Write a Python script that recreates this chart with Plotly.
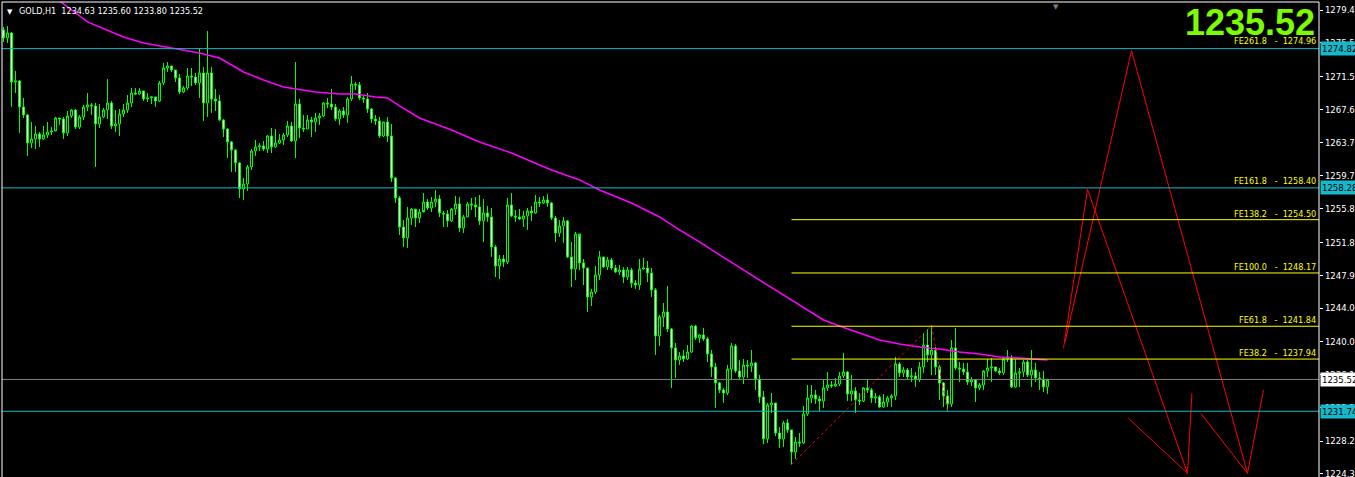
import plotly.graph_objects as go

# GOLD,H1 candles, oldest bar first
opens = [
    1277.04, 1276.09, 1276.68, 1270.86, 1270.98, 1267.89, 1266.94, 1263.61, 1264.09, 1264.68,
    1264.09, 1264.56, 1264.92, 1265.04, 1266.58, 1266.46, 1264.80, 1266.82, 1267.53, 1265.51,
    1266.70, 1267.89, 1268.13, 1268.01, 1265.87, 1266.70, 1267.53, 1268.36, 1265.63, 1265.87,
    1267.06, 1267.53, 1268.36, 1269.55, 1269.43, 1269.79, 1268.84, 1268.96, 1269.08, 1268.60,
    1270.74, 1272.52, 1272.76, 1272.28, 1271.33, 1269.67, 1270.15, 1271.57, 1271.45, 1270.74,
    1271.93, 1268.36, 1271.93, 1268.84, 1268.60, 1266.34, 1265.27, 1263.73, 1262.78, 1261.24,
    1258.15, 1258.74, 1260.76, 1262.66, 1263.14, 1263.26, 1262.90, 1264.44, 1263.14, 1263.61,
    1263.97, 1264.56, 1265.63, 1263.85, 1268.24, 1265.39, 1265.27, 1266.34, 1266.11, 1266.58,
    1266.82, 1268.36, 1268.24, 1267.89, 1266.46, 1267.41, 1266.94, 1268.84, 1270.62, 1270.50,
    1268.96, 1268.84, 1267.65, 1266.46, 1266.23, 1264.44, 1266.11, 1264.44, 1259.45, 1257.08,
    1253.63, 1252.33, 1254.70, 1255.77, 1254.70, 1255.41, 1256.60, 1255.89, 1256.60, 1256.96,
    1255.30, 1255.18, 1254.35, 1255.77, 1256.36, 1253.51, 1254.82, 1256.36, 1256.25, 1256.01,
    1254.35, 1255.30, 1254.82, 1251.26, 1249.00, 1249.83, 1249.47, 1256.25, 1254.94, 1254.82,
    1254.58, 1254.94, 1255.53, 1255.30, 1256.60, 1256.48, 1256.84, 1256.48, 1254.70, 1252.92,
    1253.75, 1254.35, 1250.07, 1248.64, 1252.80, 1249.36, 1248.76, 1245.32, 1245.91, 1247.93,
    1250.07, 1248.88, 1249.71, 1248.76, 1248.29, 1248.52, 1247.69, 1248.52, 1246.98, 1246.74,
    1248.64, 1248.76, 1248.17, 1246.15, 1240.68, 1242.94, 1243.53, 1241.51, 1239.26, 1237.83,
    1238.31, 1237.95, 1238.78, 1241.87, 1240.45, 1240.80, 1240.33, 1238.54, 1237.00, 1235.10,
    1234.27, 1233.91, 1236.76, 1239.50, 1236.53, 1235.81, 1237.24, 1237.12, 1237.48, 1235.57,
    1233.44, 1228.45, 1232.49, 1232.72, 1229.16, 1228.45, 1230.35, 1229.52, 1226.90, 1228.09,
    1227.97, 1231.42, 1233.32, 1233.67, 1233.20, 1232.96, 1234.51, 1234.86, 1234.74, 1234.98,
    1235.93, 1236.41, 1233.79, 1234.15, 1233.08, 1232.96, 1234.51, 1234.27, 1233.32, 1233.44,
    1232.25, 1232.84, 1233.32, 1233.56, 1237.36, 1236.29, 1236.64, 1235.81, 1235.93, 1235.57,
    1237.00, 1239.61, 1238.43, 1239.02, 1237.00, 1235.10, 1233.56, 1232.60, 1239.26, 1236.88,
    1236.76, 1236.41, 1235.22, 1235.46, 1234.51, 1234.86, 1236.53, 1236.88, 1237.00, 1236.53,
    1236.29, 1237.95, 1238.19, 1234.62, 1236.29, 1236.41, 1237.59, 1236.05, 1236.64, 1235.69,
    1235.57, 1234.63,
]
highs = [
    1277.39, 1277.51, 1276.80, 1272.17, 1271.10, 1268.96, 1267.06, 1266.11, 1265.63, 1264.92,
    1265.63, 1266.11, 1265.51, 1266.70, 1266.58, 1266.70, 1267.41, 1267.65, 1267.65, 1266.94,
    1268.13, 1269.55, 1268.36, 1268.36, 1268.24, 1267.77, 1271.21, 1268.60, 1267.53, 1267.65,
    1268.24, 1269.31, 1270.15, 1270.15, 1270.15, 1269.79, 1269.55, 1269.20, 1269.08, 1270.98,
    1273.12, 1273.23, 1272.76, 1272.28, 1271.81, 1270.38, 1272.52, 1272.52, 1271.93, 1274.90,
    1272.64, 1276.92, 1272.64, 1270.03, 1269.31, 1266.46, 1265.39, 1263.85, 1262.90, 1261.35,
    1259.45, 1261.00, 1262.90, 1263.97, 1263.61, 1263.85, 1264.56, 1265.39, 1265.27, 1264.68,
    1264.80, 1266.23, 1266.11, 1273.23, 1268.84, 1266.94, 1266.94, 1266.70, 1267.18, 1267.18,
    1268.48, 1268.96, 1270.03, 1268.24, 1267.65, 1267.89, 1269.08, 1271.57, 1270.86, 1270.86,
    1269.31, 1269.55, 1267.77, 1266.94, 1266.70, 1266.11, 1266.70, 1265.87, 1259.57, 1257.32,
    1254.46, 1256.01, 1255.89, 1255.65, 1255.77, 1257.67, 1256.96, 1257.20, 1258.03, 1257.43,
    1255.53, 1255.65, 1255.89, 1257.32, 1257.20, 1255.06, 1256.60, 1257.08, 1257.20, 1257.43,
    1256.96, 1256.13, 1255.89, 1251.49, 1250.31, 1250.31, 1257.08, 1257.67, 1255.65, 1255.77,
    1255.53, 1255.89, 1256.13, 1257.43, 1257.20, 1257.32, 1257.55, 1256.60, 1254.94, 1254.46,
    1254.82, 1254.46, 1251.85, 1253.04, 1252.44, 1249.83, 1248.76, 1246.27, 1249.00, 1250.78,
    1250.07, 1250.07, 1249.95, 1249.12, 1249.12, 1248.88, 1248.88, 1248.76, 1247.34, 1249.83,
    1249.95, 1249.59, 1248.76, 1246.39, 1243.18, 1244.60, 1246.62, 1241.63, 1239.85, 1238.78,
    1239.02, 1239.61, 1241.99, 1241.99, 1240.92, 1241.63, 1240.56, 1239.02, 1237.48, 1235.22,
    1234.51, 1237.24, 1239.85, 1239.73, 1237.83, 1237.95, 1237.83, 1239.02, 1237.59, 1236.05,
    1234.15, 1232.72, 1233.91, 1232.72, 1229.87, 1230.59, 1230.82, 1229.52, 1228.68, 1229.16,
    1232.37, 1234.86, 1234.86, 1234.27, 1233.56, 1235.46, 1236.41, 1235.34, 1235.69, 1236.41,
    1238.66, 1236.53, 1236.05, 1234.62, 1233.91, 1234.62, 1235.46, 1234.51, 1233.91, 1233.67,
    1233.79, 1233.56, 1233.79, 1238.19, 1237.59, 1237.00, 1236.88, 1236.88, 1236.41, 1237.59,
    1241.04, 1241.51, 1241.95, 1239.38, 1237.24, 1235.22, 1234.27, 1240.21, 1241.63, 1237.59,
    1237.48, 1237.48, 1235.81, 1235.46, 1235.10, 1236.64, 1237.95, 1238.07, 1237.00, 1236.88,
    1238.19, 1239.02, 1238.43, 1237.95, 1236.88, 1237.83, 1237.83, 1239.02, 1237.48, 1236.41,
    1236.53, 1235.60,
]
lows = [
    1275.61, 1275.49, 1267.89, 1269.55, 1264.80, 1266.58, 1262.07, 1263.02, 1262.90, 1263.14,
    1263.97, 1264.21, 1264.56, 1265.16, 1265.75, 1264.09, 1264.44, 1266.58, 1265.27, 1265.27,
    1266.34, 1267.41, 1266.94, 1260.76, 1265.39, 1266.58, 1266.46, 1265.27, 1264.92, 1264.44,
    1266.70, 1267.18, 1267.89, 1269.31, 1269.31, 1268.60, 1268.48, 1268.24, 1267.89, 1268.48,
    1270.50, 1272.05, 1272.05, 1270.86, 1269.43, 1269.55, 1269.91, 1270.38, 1270.50, 1268.96,
    1266.23, 1266.70, 1267.18, 1267.41, 1266.23, 1264.32, 1261.83, 1260.17, 1260.17, 1257.08,
    1256.84, 1257.91, 1260.40, 1262.07, 1262.66, 1262.66, 1262.42, 1262.42, 1263.02, 1263.49,
    1263.37, 1264.32, 1263.73, 1261.83, 1264.21, 1264.92, 1265.27, 1264.32, 1264.92, 1265.75,
    1266.70, 1267.77, 1267.53, 1266.23, 1265.75, 1266.58, 1265.99, 1268.60, 1269.91, 1268.72,
    1268.36, 1267.18, 1265.99, 1265.75, 1264.21, 1264.32, 1263.73, 1258.98, 1256.48, 1252.68,
    1251.26, 1251.14, 1253.87, 1253.63, 1254.11, 1255.65, 1255.65, 1255.41, 1256.01, 1254.82,
    1253.63, 1253.63, 1254.23, 1255.06, 1253.04, 1252.92, 1254.82, 1255.65, 1254.82, 1253.87,
    1251.85, 1254.23, 1250.07, 1247.69, 1247.45, 1248.88, 1249.24, 1254.82, 1254.23, 1254.46,
    1253.63, 1253.28, 1254.35, 1255.18, 1256.01, 1256.36, 1256.01, 1254.46, 1251.85, 1252.44,
    1251.73, 1249.95, 1246.50, 1247.34, 1248.52, 1246.74, 1243.53, 1244.25, 1245.67, 1247.34,
    1248.76, 1248.52, 1248.52, 1248.17, 1247.93, 1246.98, 1247.34, 1246.39, 1246.27, 1246.15,
    1248.52, 1247.10, 1245.32, 1238.43, 1239.50, 1241.75, 1241.16, 1234.51, 1235.69, 1237.24,
    1237.59, 1237.83, 1238.66, 1240.21, 1239.85, 1240.09, 1237.59, 1235.81, 1232.13, 1233.91,
    1232.72, 1233.67, 1235.46, 1236.29, 1235.46, 1234.98, 1235.69, 1236.41, 1234.27, 1232.72,
    1227.85, 1227.97, 1231.54, 1228.80, 1227.38, 1227.50, 1229.16, 1225.40, 1226.07, 1227.50,
    1227.85, 1231.18, 1232.72, 1232.60, 1231.77, 1232.13, 1234.15, 1234.51, 1234.62, 1234.74,
    1235.69, 1232.96, 1232.96, 1231.54, 1232.49, 1232.84, 1233.91, 1232.72, 1232.72, 1232.13,
    1232.13, 1232.25, 1232.25, 1233.08, 1235.81, 1235.81, 1235.57, 1235.22, 1234.62, 1235.22,
    1236.29, 1237.59, 1236.05, 1236.05, 1233.08, 1232.25, 1231.70, 1232.25, 1236.64, 1235.22,
    1236.05, 1234.86, 1234.74, 1232.84, 1234.27, 1234.27, 1235.81, 1235.22, 1236.41, 1236.05,
    1236.05, 1237.59, 1234.51, 1234.51, 1234.62, 1235.81, 1235.81, 1234.62, 1235.22, 1234.27,
    1234.03, 1233.80,
]
closes = [
    1276.09, 1276.68, 1270.86, 1270.98, 1267.89, 1266.94, 1263.61, 1264.09, 1264.68, 1264.09,
    1264.56, 1264.92, 1265.04, 1266.58, 1266.46, 1264.80, 1266.82, 1267.53, 1265.51, 1266.70,
    1267.89, 1268.13, 1268.01, 1265.87, 1266.70, 1267.53, 1268.36, 1265.63, 1265.87, 1267.06,
    1267.53, 1268.36, 1269.55, 1269.43, 1269.79, 1268.84, 1268.96, 1269.08, 1268.60, 1270.74,
    1272.52, 1272.76, 1272.28, 1271.33, 1269.67, 1270.15, 1271.57, 1271.45, 1270.74, 1271.93,
    1268.36, 1271.93, 1268.84, 1268.60, 1266.34, 1265.27, 1263.73, 1262.78, 1261.24, 1258.15,
    1258.74, 1260.76, 1262.66, 1263.14, 1263.26, 1262.90, 1264.44, 1263.14, 1263.61, 1263.97,
    1264.56, 1265.63, 1263.85, 1268.24, 1265.39, 1265.27, 1266.34, 1266.11, 1266.58, 1266.82,
    1268.36, 1268.24, 1267.89, 1266.46, 1267.41, 1266.94, 1268.84, 1270.62, 1270.50, 1268.96,
    1268.84, 1267.65, 1266.46, 1266.23, 1264.44, 1266.11, 1264.44, 1259.45, 1257.08, 1253.63,
    1252.33, 1254.70, 1255.77, 1254.70, 1255.41, 1256.60, 1255.89, 1256.60, 1256.96, 1255.30,
    1255.18, 1254.35, 1255.77, 1256.36, 1253.51, 1254.82, 1256.36, 1256.25, 1256.01, 1254.35,
    1255.30, 1254.82, 1251.26, 1249.00, 1249.83, 1249.47, 1256.25, 1254.94, 1254.82, 1254.58,
    1254.94, 1255.53, 1255.30, 1256.60, 1256.48, 1256.84, 1256.48, 1254.70, 1252.92, 1253.75,
    1254.35, 1250.07, 1248.64, 1252.80, 1249.36, 1248.76, 1245.32, 1245.91, 1247.93, 1250.07,
    1248.88, 1249.71, 1248.76, 1248.29, 1248.52, 1247.69, 1248.52, 1246.98, 1246.74, 1248.64,
    1248.76, 1248.17, 1246.15, 1240.68, 1242.94, 1243.53, 1241.51, 1239.26, 1237.83, 1238.31,
    1237.95, 1238.78, 1241.87, 1240.45, 1240.80, 1240.33, 1238.54, 1237.00, 1235.10, 1234.27,
    1233.91, 1236.76, 1239.50, 1236.53, 1235.81, 1237.24, 1237.12, 1237.48, 1235.57, 1233.44,
    1228.45, 1232.49, 1232.72, 1229.16, 1228.45, 1230.35, 1229.52, 1226.90, 1228.09, 1227.97,
    1231.42, 1233.32, 1233.67, 1233.20, 1232.96, 1234.51, 1234.86, 1234.74, 1234.98, 1235.93,
    1236.41, 1233.79, 1234.15, 1233.08, 1232.96, 1234.51, 1234.27, 1233.32, 1233.44, 1232.25,
    1232.84, 1233.32, 1233.56, 1237.36, 1236.29, 1236.64, 1235.81, 1235.93, 1235.57, 1237.00,
    1239.61, 1238.43, 1239.02, 1237.00, 1235.10, 1233.56, 1232.60, 1239.26, 1236.88, 1236.76,
    1236.41, 1235.22, 1235.46, 1234.51, 1234.86, 1236.53, 1236.88, 1237.00, 1236.53, 1236.29,
    1237.95, 1238.19, 1234.62, 1236.29, 1236.41, 1237.59, 1236.05, 1236.64, 1235.69, 1235.57,
    1234.63, 1235.52,
]
bars = list(range(len(closes)))

# magenta moving average, read at a few bars
ma_bars = [12, 21, 30, 35, 42, 49, 54, 60, 65, 70, 78, 84, 88, 93, 96, 99, 104, 112, 119,
           127, 134, 137, 144, 149, 157, 164, 169, 174, 179, 183, 187, 192, 197, 202, 205,
           209, 214, 219, 224, 229, 234, 239, 244, 249, 254, 261]
ma_values = [1281.20, 1278.00, 1276.20, 1275.49, 1274.90, 1274.30, 1273.71, 1272.05, 1271.10,
             1270.26, 1269.67, 1269.43, 1269.43, 1269.08, 1268.96, 1268.01, 1266.58, 1265.16,
             1263.73, 1262.42, 1261.00, 1260.40, 1259.22, 1258.03, 1256.48, 1254.82, 1253.28,
             1251.85, 1250.31, 1249.12, 1247.93, 1246.50, 1244.96, 1243.53, 1242.58, 1241.87,
             1241.04, 1240.21, 1239.73, 1239.38, 1239.14, 1238.78, 1238.54, 1238.19, 1238.07,
             1237.83]

# fibo expansion
fe_names = ["FE261.8", "FE161.8", "FE138.2", "FE100.0", "FE61.8", "FE38.2"]
fe_levels = [1274.96, 1258.40, 1254.50, 1248.17, 1241.84, 1237.94]
fe_bars = [197, 232, 236]
fe_prices = [1225.40, 1241.95, 1231.70]

# horizontal lines
cyan_levels = [1274.82, 1258.28, 1231.74]
bid_price = 1235.52
header = "GOLD,H1  1234.63 1235.60 1233.80 1235.52"

# price scale
tick_vals = [1279.40, 1275.50, 1271.50, 1267.60, 1263.70, 1259.70, 1255.80, 1251.80,
             1247.90, 1244.00, 1240.00, 1236.10, 1232.20, 1228.20, 1224.30]

# red hand drawn projection lines (future bars)
zz1_bars = [265.0, 271.0, 296.0, 297.1]
zz1_prices = [1239.22, 1258.11, 1224.37, 1233.88]
zz2_bars = [265.4, 282.0, 311.0, 315.0]
zz2_prices = [1240.01, 1274.58, 1224.37, 1234.27]
zz3_bars = [281.2, 296.0]
zz3_prices = [1230.91, 1224.37]
zz4_bars = [299.3, 311.0]
zz4_prices = [1231.50, 1224.37]

X_RANGE = [-0.375, 328.875]
Y_RANGE = [1223.93, 1280.36]
CYAN = "#16b9cb"
LIME = "#00ff00"
FONT = "DejaVu Sans Condensed, Liberation Sans"

fig = go.Figure()

fig.add_trace(go.Candlestick(
    x=bars, open=opens, high=highs, low=lows, close=closes,
    increasing=dict(line=dict(color=LIME, width=1), fillcolor="#000000"),
    decreasing=dict(line=dict(color=LIME, width=1), fillcolor="#ffffff"),
    whiskerwidth=0, hoverinfo="skip"))

fig.add_trace(go.Scatter(x=ma_bars, y=ma_values, mode="lines",
                         line=dict(color="#ff00ff", width=1.5), hoverinfo="skip"))

fig.add_trace(go.Scatter(x=fe_bars, y=fe_prices, mode="lines",
                         line=dict(color="#ff0000", width=1, dash="dot"), hoverinfo="skip"))

for zx, zy in [(zz1_bars, zz1_prices), (zz2_bars, zz2_prices),
               (zz3_bars, zz3_prices), (zz4_bars, zz4_prices)]:
    fig.add_trace(go.Scatter(x=zx, y=zy, mode="lines",
                             line=dict(color="#ff0000", width=1), hoverinfo="skip"))

# FE lines start at the first anchor; the ones that sit on a cyan level are hidden by it
for lvl in fe_levels:
    if min(abs(lvl - c) for c in cyan_levels) > 0.3:
        fig.add_shape(type="line", xref="x", yref="y", x0=fe_bars[0], x1=X_RANGE[1],
                      y0=lvl, y1=lvl, line=dict(color="#ffff00", width=1))

for lvl in cyan_levels:
    fig.add_shape(type="line", xref="paper", yref="y", x0=0, x1=1, y0=lvl, y1=lvl,
                  line=dict(color=CYAN, width=1))
fig.add_shape(type="line", xref="paper", yref="y", x0=0, x1=1, y0=bid_price, y1=bid_price,
              line=dict(color="#808080", width=1))

# chart frame (left, top, right)
for x0, y0, x1, y1 in [(0, 0, 0, 1), (0, 1, 1, 1), (1, 0, 1, 1)]:
    fig.add_shape(type="line", xref="paper", yref="paper", x0=x0, y0=y0, x1=x1, y1=y1,
                  line=dict(color="#ffffff", width=1))

nb = "\u00a0"
for name, lvl in zip(fe_names, fe_levels):
    fig.add_annotation(xref="paper", yref="y", x=1, y=lvl, xanchor="right", yanchor="bottom",
                       xshift=-2, text=f"{name}{nb*3}-{nb*2}{lvl:.2f}", showarrow=False,
                       borderpad=0, font=dict(family=FONT, size=9, color="#ffff00"))

for lvl in cyan_levels:
    fig.add_annotation(xref="paper", yref="y", x=1, y=lvl, xanchor="left", yanchor="middle",
                       xshift=1, text=f"{lvl:.2f}", showarrow=False, bgcolor=CYAN,
                       borderpad=1, font=dict(family=FONT, size=9.5, color="#000000"))
fig.add_annotation(xref="paper", yref="y", x=1, y=bid_price, xanchor="left", yanchor="middle",
                   xshift=1, text=f"{bid_price:.2f}", showarrow=False, bgcolor="#ffffff",
                   borderpad=1, font=dict(family=FONT, size=9.5, color="#000000"))

fig.add_annotation(xref="paper", yref="paper", x=0, y=1, xanchor="left", yanchor="top",
                   xshift=3, yshift=-4, text="\u25bc", showarrow=False,
                   font=dict(family="DejaVu Sans", size=7, color="#ffffff"))
fig.add_annotation(xref="paper", yref="paper", x=0, y=1, xanchor="left", yanchor="top",
                   xshift=15, yshift=-2, text=header.replace("  ", nb * 2), showarrow=False,
                   font=dict(family=FONT, size=9, color="#ffffff"))
fig.add_annotation(xref="paper", yref="paper", x=1, y=1, xanchor="right", yanchor="top",
                   xshift=-2, yshift=2, text=f"<b>{closes[-1]:.2f}</b>", showarrow=False,
                   font=dict(family="Liberation Sans", size=36, color="#7cfc00"))
fig.add_annotation(xref="x", yref="paper", x=263, y=1, xanchor="center", yanchor="top",
                   yshift=1, text="\u25bc", showarrow=False,
                   font=dict(family="DejaVu Sans", size=7, color="#808080"))

fig.update_layout(
    width=1355, height=477,
    margin=dict(l=2, r=36, t=2, b=0, autoexpand=False),
    paper_bgcolor="#000000", plot_bgcolor="#000000",
    showlegend=False, hovermode=False,
    xaxis=dict(range=X_RANGE, visible=False, automargin=False,
               rangeslider=dict(visible=False)),
    yaxis=dict(range=Y_RANGE, side="right", showgrid=False, zeroline=False, automargin=False,
               tickvals=tick_vals, ticktext=[f"{v:.2f}" for v in tick_vals],
               ticks="outside", ticklen=3, tickcolor="#ffffff", ticklabeloverflow="allow",
               tickfont=dict(family=FONT, size=9.5, color="#ffffff")),
)

# the page's default 8px body margin would shift the chart
fig.write_html("out.html", config={"displayModeBar": False},
               post_script="document.body.style.margin='0';"
                           "document.body.style.background='#000';")
